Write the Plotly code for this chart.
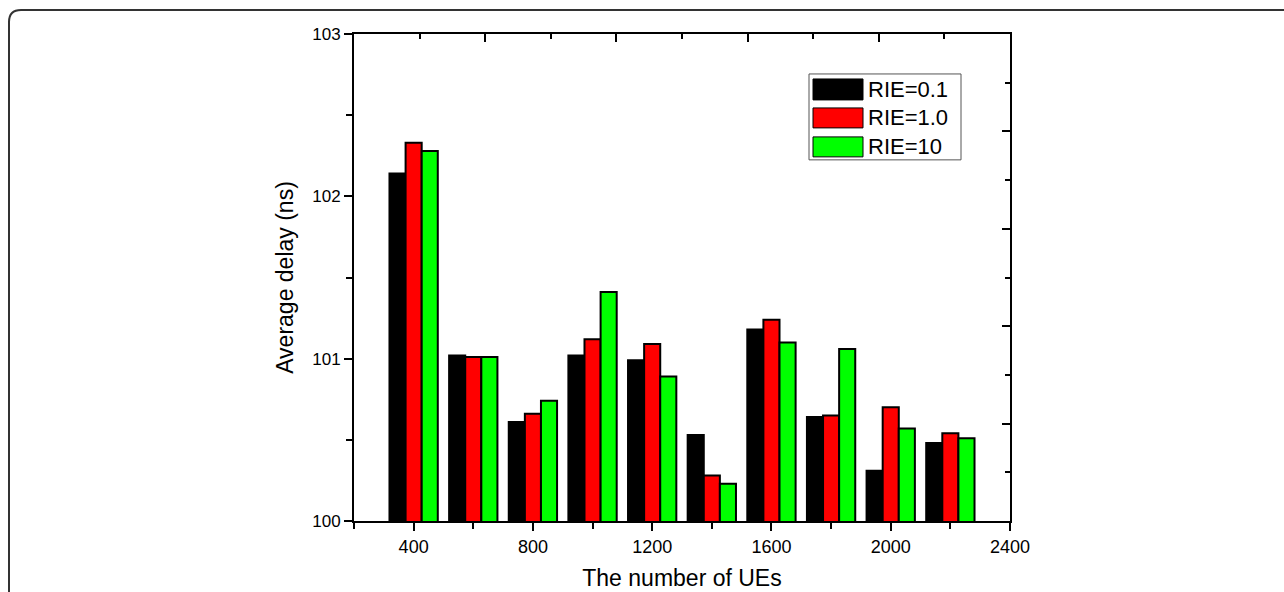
import plotly.graph_objects as go

# Number of UEs per group and average delay (ns) for each RIE setting
ues = [400, 600, 800, 1000, 1200, 1400, 1600, 1800, 2000, 2200]
rie_01 = [102.14, 101.02, 100.61, 101.02, 100.99, 100.53, 101.18, 100.64, 100.31, 100.48]
rie_10 = [102.33, 101.01, 100.66, 101.12, 101.09, 100.28, 101.24, 100.65, 100.70, 100.54]
rie_100 = [102.28, 101.01, 100.74, 101.41, 100.89, 100.23, 101.10, 101.06, 100.57, 100.51]

series_names = ["RIE=0.1", "RIE=1.0", "RIE=10"]
series_colors = ["#000000", "#ff0000", "#00ff00"]
x_ticks = [400, 800, 1200, 1600, 2000, 2400]
y_ticks = [100, 101, 102, 103]

W, H = 1284, 592
L, R, T, B = 354, 1010, 34, 521.5
FONT = "Arial, Liberation Sans, sans-serif"


def px(x):
    return (x - L) / (R - L)


def py(y):
    return (B - y) / (B - T)


fig = go.Figure()
for name, vals, col in zip(series_names, [rie_01, rie_10, rie_100], series_colors):
    fig.add_trace(go.Bar(
        x=ues, y=vals, name=name, showlegend=False,
        marker=dict(color=col, line=dict(color="#000000", width=2)),
    ))

# Empty helper trace so the top/right frame axes get drawn
fig.add_trace(go.Scatter(x=[], y=[], xaxis="x2", yaxis="y2",
                         showlegend=False, hoverinfo="skip"))

axis_common = dict(showline=True, linecolor="#000000", linewidth=2,
                   showgrid=False, zeroline=False, ticks="outside",
                   tickwidth=2, ticklen=8, tickcolor="#000000",
                   automargin=False)
frame_axis = dict(showline=True, linecolor="#000000", linewidth=2,
                  showgrid=False, zeroline=False, showticklabels=False,
                  range=[0, 10], dtick=2, tick0=0, ticks="inside", ticklen=8,
                  tickwidth=2, tickcolor="#000000", automargin=False,
                  minor=dict(dtick=1, ticks="inside", ticklen=5, tickwidth=2,
                             tickcolor="#000000"))

fig.update_layout(
    width=W, height=H,
    margin=dict(l=L, r=W - R, t=T, b=H - B),
    paper_bgcolor="white", plot_bgcolor="white",
    barmode="group", bargap=0.19, bargroupgap=0,
    font=dict(family=FONT, color="#000000"),
    xaxis=dict(
        **axis_common, range=[200, 2400], tickvals=x_ticks,
        tickfont=dict(size=18),
        minor=dict(dtick=200, tick0=200, ticks="outside", ticklen=6,
                   tickwidth=2, tickcolor="#000000"),
        title=dict(text="The number of UEs", font=dict(size=23), standoff=14),
    ),
    yaxis=dict(
        **axis_common, range=[100, 103], tickvals=y_ticks,
        tickfont=dict(size=17),
        minor=dict(dtick=0.5, ticks="outside", ticklen=6,
                   tickwidth=2, tickcolor="#000000"),
        title=dict(text="Average delay (ns)", font=dict(size=23), standoff=12),
    ),
    xaxis2=dict(overlaying="x", side="top", anchor="y", **frame_axis),
    yaxis2=dict(overlaying="y", side="right", anchor="x", **frame_axis),
)

# Legend box drawn with shapes: wide colour swatches next to the labels
shapes = [dict(type="rect", xref="paper", yref="paper",
               x0=px(809), x1=px(961), y0=py(160), y1=py(74),
               line=dict(color="#555555", width=1), fillcolor="white")]
annotations = []
rows = [(79, 100), (108, 128), (137, 157)]
for (y0, y1), name, col in zip(rows, series_names, series_colors):
    shapes.append(dict(type="rect", xref="paper", yref="paper",
                       x0=px(813), x1=px(863), y0=py(y1), y1=py(y0),
                       line=dict(color="#000000", width=1), fillcolor=col))
    annotations.append(dict(xref="paper", yref="paper", x=px(866),
                            y=py((y0 + y1) / 2), text=name, showarrow=False,
                            xanchor="left", yanchor="middle",
                            font=dict(size=22, family=FONT, color="#000000")))

# Rounded outer frame around the figure
frame = "M {a},{b} L {a},{c} Q {a},{d} {e},{d} L {f},{d}".format(
    a=px(9), b=py(600), c=py(22), d=py(10), e=px(21), f=px(1292))
shapes.append(dict(type="path", xref="paper", yref="paper", path=frame,
                   line=dict(color="#333333", width=2)))

fig.update_layout(shapes=shapes, annotations=annotations)
fig.write_html("out.html")
